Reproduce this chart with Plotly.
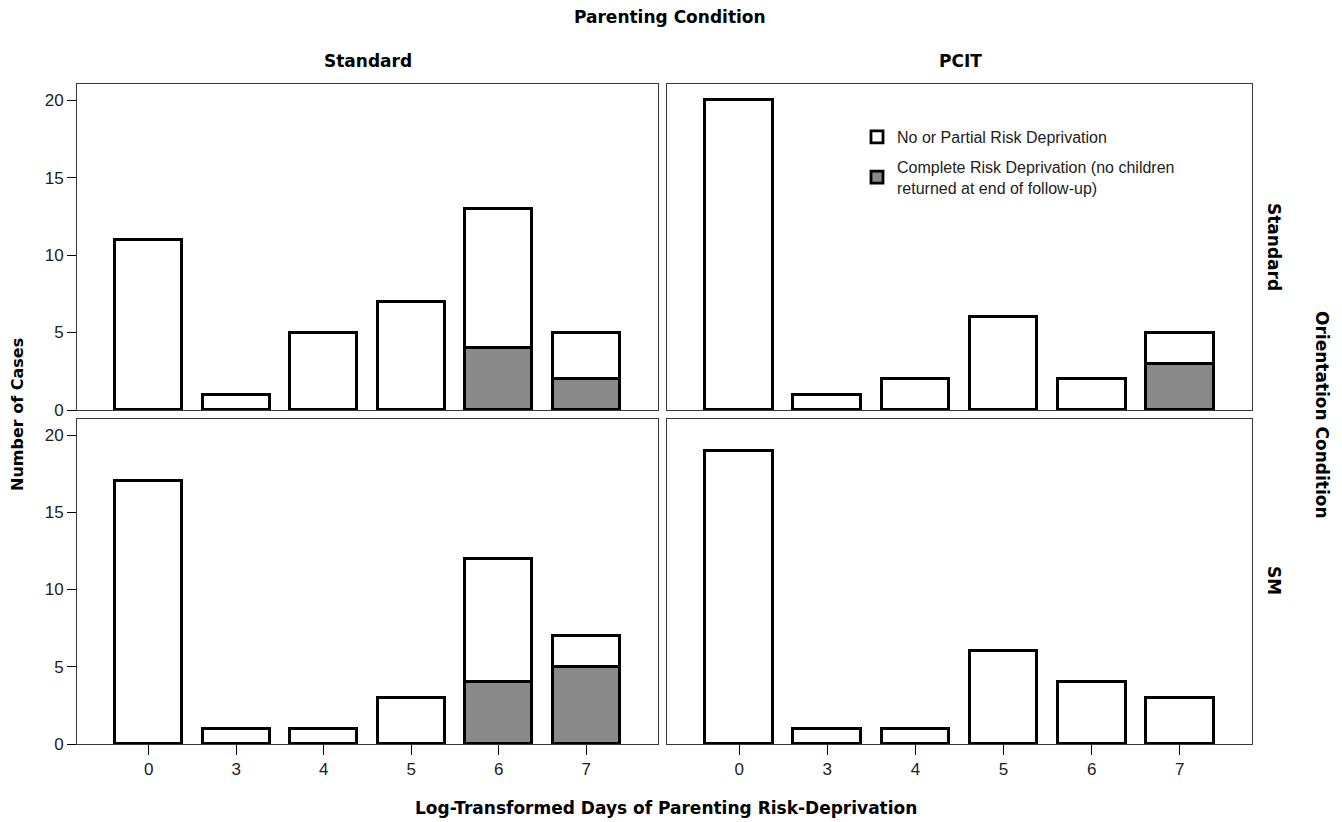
import plotly.graph_objects as go

categories = ["0", "3", "4", "5", "6", "7"]

# Top row: Orientation = Standard ; Bottom row: Orientation = SM
# Left col: Parenting = Standard ; Right col: Parenting = PCIT
std_std_complete = [0, 0, 0, 0, 4, 2]
std_std_partial = [11, 1, 5, 7, 9, 3]
pcit_std_complete = [0, 0, 0, 0, 0, 3]
pcit_std_partial = [20, 1, 2, 6, 2, 2]
std_sm_complete = [0, 0, 0, 0, 4, 5]
std_sm_partial = [17, 1, 1, 3, 8, 2]
pcit_sm_complete = [0, 0, 0, 0, 0, 0]
pcit_sm_partial = [19, 1, 1, 6, 4, 3]

series_names = ["Complete Risk Deprivation (no children<br>returned at end of follow-up)",
                "No or Partial Risk Deprivation"]
y_ticks = [0, 5, 10, 15, 20]

FONT = "Liberation Sans, Arial, sans-serif"
BOLD = "DejaVu Sans, Verdana, sans-serif"

def nz(v):
    return [None if a == 0 else a for a in v]

fig = go.Figure()
panels = [
    ("x", "y", std_std_complete, std_std_partial, True),
    ("x2", "y2", pcit_std_complete, pcit_std_partial, False),
    ("x3", "y3", std_sm_complete, std_sm_partial, False),
    ("x4", "y4", pcit_sm_complete, pcit_sm_partial, False),
]
for xa, ya, comp, part, show in panels:
    fig.add_trace(go.Bar(x=categories, y=nz(comp), xaxis=xa, yaxis=ya, name=series_names[0],
                         legendgroup="c", legendrank=2, showlegend=show, width=0.77,
                         marker=dict(color="#898989", line=dict(color="black", width=2.8))))
    fig.add_trace(go.Bar(x=categories, y=nz(part), xaxis=xa, yaxis=ya, name=series_names[1],
                         legendgroup="p", legendrank=1, showlegend=show, width=0.77,
                         marker=dict(color="white", line=dict(color="black", width=2.8))))

# page is offset by 8px (body margin); figure coords = page coords - 8
W, H = 1326, 814
ml, mr, mt, mb = 69, 82, 76, 78
pw, ph = W - ml - mr, H - mt - mb

def px(xp):  # page pixel -> paper x
    return (xp - 77) / pw

def py(yp):  # page pixel -> paper y
    return (744 - yp) / ph

xl = [0, px(658)]
xr = [px(667), 1]
yb = [0, py(419)]
yt = [py(410), 1]

xr_range = [-0.82, 5.82]
yrange = [0, 21.04]
line_col = "#3a3a3a"

def xaxis(domain, anchor, ticks):
    return dict(domain=domain, anchor=anchor, type="category", categoryorder="array",
                categoryarray=categories, range=xr_range, showgrid=False, zeroline=False,
                automargin=False,
                showline=True, linecolor=line_col, linewidth=1, mirror=True,
                ticks="outside" if ticks else "", ticklen=10, tickcolor="black", tickwidth=1.2,
                showticklabels=ticks, tickfont=dict(family=FONT, size=17, color="#222"))

def yaxis(domain, anchor, ticks):
    return dict(domain=domain, anchor=anchor, range=yrange, tickvals=y_ticks, showgrid=False,
                zeroline=False, showline=True, linecolor=line_col, linewidth=1, mirror=True,
                automargin=False,
                ticks="outside" if ticks else "", ticklen=9, tickcolor="black", tickwidth=1.2,
                showticklabels=ticks, tickfont=dict(family=FONT, size=17, color="#222"))

fig.update_layout(
    width=W, height=H, margin=dict(l=ml, r=mr, t=mt, b=mb, autoexpand=False),
    paper_bgcolor="white", plot_bgcolor="white", barmode="stack", bargap=0,
    xaxis=xaxis(xl, "y", False), yaxis=yaxis(yt, "x", True),
    xaxis2=xaxis(xr, "y2", False), yaxis2=yaxis(yt, "x2", False),
    xaxis3=xaxis(xl, "y3", True), yaxis3=yaxis(yb, "x3", True),
    xaxis4=xaxis(xr, "y4", True), yaxis4=yaxis(yb, "x4", False),
    legend=dict(x=px(857), y=py(120), xanchor="left", yanchor="top",
                traceorder="grouped", bgcolor="rgba(0,0,0,0)",
                font=dict(family=FONT, size=16, color="#222"), tracegroupgap=6,
                itemwidth=30),
    showlegend=True,
)

def ann2(text, xp, yp, size=17, angle=0, family=BOLD):
    fig.add_annotation(text="<b>%s</b>" % text, x=px(xp), y=py(yp), xref="paper", yref="paper",
                       showarrow=False, textangle=angle, xanchor="center", yanchor="middle",
                       font=dict(family=family, size=size, color="black"))

ann2("Parenting Condition", 670, 17)
ann2("Standard", 368, 61)
ann2("PCIT", 960, 61)
ann2("Standard", 1274, 247, 17, 90)
ann2("SM", 1274, 581, 17, 90)
ann2("Orientation Condition", 1322, 415, 17, 90)
ann2("Number of Cases", 18, 415, 16, -90)
ann2("Log-Transformed Days of Parenting Risk-Deprivation", 666, 808, 17)

fig.write_html("out.html")
